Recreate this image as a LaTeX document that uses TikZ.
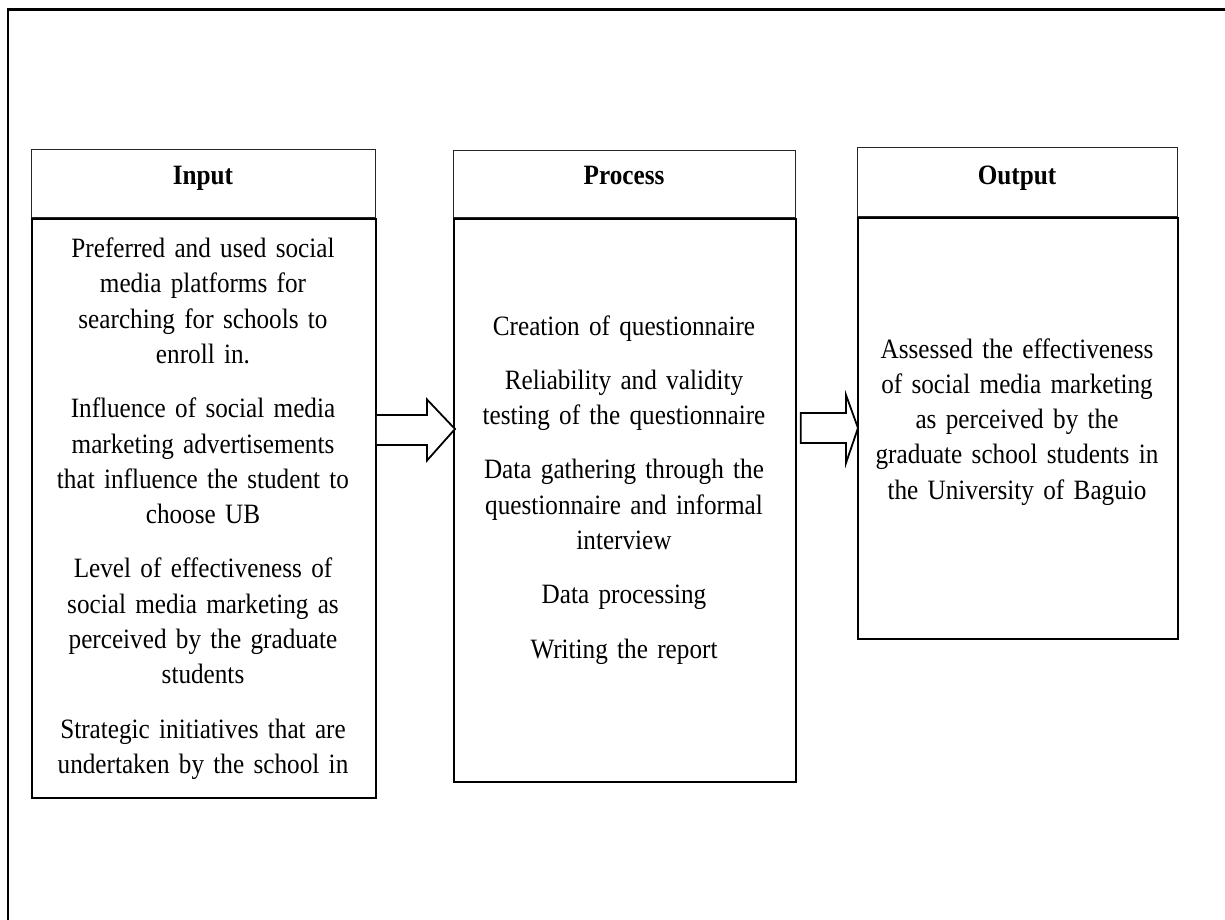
\documentclass[tikz,border=0pt]{standalone}
\usepackage{fontspec}
\setmainfont{Liberation Serif}[FakeStretch=0.9]
\usetikzlibrary{calc}
\begin{document}
\begin{tikzpicture}[x=1pt,y=-1pt,
  hdr/.style={draw=black!85, line width=1.2pt, inner sep=0pt, anchor=south west},
  bodybox/.style={draw=black, line width=1.8pt, inner sep=0pt, anchor=north west},
  ttl/.style={inner sep=0pt, anchor=base, font=\bfseries\fontsize{28}{31}\selectfont},
  txt/.style={inner sep=0pt, anchor=base, align=center, font=\fontsize{28}{35.3}\selectfont},
  blockarrow/.style={draw=black, line width=1.8pt, fill=white, line join=miter}]
\useasboundingbox (0,0) rectangle (1225,920);
\fill[white] (0,0) rectangle (1225,920);
% outer frame
\draw[line width=2.5pt] (8,920) -- (8,9.5) -- (1225,9.5);
% Input
\node[hdr, minimum width=344pt, minimum height=67.5pt] (inhdr) at (31,218) {};
\node[bodybox, minimum width=344pt, minimum height=579pt] (inbody) at (31,218) {};
\node[ttl] (inttl) at (203,185) {Input};
\node[txt, text width=342pt] (intxt) at (203,257.5) {Preferred and used social\\media platforms for\\searching for schools to\\enroll in.\\[19pt]Influence of social media\\marketing advertisements\\that influence the student to\\choose UB\\[19pt]Level of effectiveness of\\social media marketing as\\perceived by the graduate\\students\\[19pt]Strategic initiatives that are\\undertaken by the school in};
% Process
\node[hdr, minimum width=342pt, minimum height=67pt] (prhdr) at (453,218) {};
\node[bodybox, minimum width=342pt, minimum height=563pt] (prbody) at (453,218) {};
\node[ttl] (prttl) at (624,185) {Process};
\node[txt, text width=340pt] (prtxt) at (624,335) {Creation of questionnaire\\[19pt]Reliability and validity\\testing of the questionnaire\\[19pt]Data gathering through the\\questionnaire and informal\\interview\\[19pt]Data processing\\[19pt]Writing the report};
% Output
\node[hdr, minimum width=320pt, minimum height=69pt] (ouhdr) at (857,217) {};
\node[bodybox, minimum width=320pt, minimum height=421pt] (oubody) at (857,217) {};
\node[ttl] (outtl) at (1017,185) {Output};
\node[txt, text width=318pt] (outxt) at (1017,358) {Assessed the effectiveness\\of social media marketing\\as perceived by the\\graduate school students in\\the University of Baguio};
% arrows
\coordinate (ya) at (0,430);
\coordinate (yb) at (0,428);
\path (inbody.east |- ya) coordinate (t1);
\path (prbody.west |- ya) coordinate (p1);
\draw[blockarrow] (t1) ++(0,-15) -- ($(p1)+(-26,-15)$) -- ($(p1)+(-26,-30.5)$) -- ($(p1)+(2,-1)$) -- ($(p1)+(-26,30.5)$) -- ($(p1)+(-26,15)$) -- ($(t1)+(0,15)$);
\path (prbody.east |- yb) coordinate (t2);
\path (oubody.west |- yb) coordinate (p2);
\draw[blockarrow] ($(t2)+(4,-15)$) -- ($(p2)+(-11,-15)$) -- ($(p2)+(-11,-33)$) -- ($(p2)+(1,0)$) -- ($(p2)+(-11,35)$) -- ($(p2)+(-11,15)$) -- ($(t2)+(4,15)$) -- cycle;
\end{tikzpicture}
\end{document}
